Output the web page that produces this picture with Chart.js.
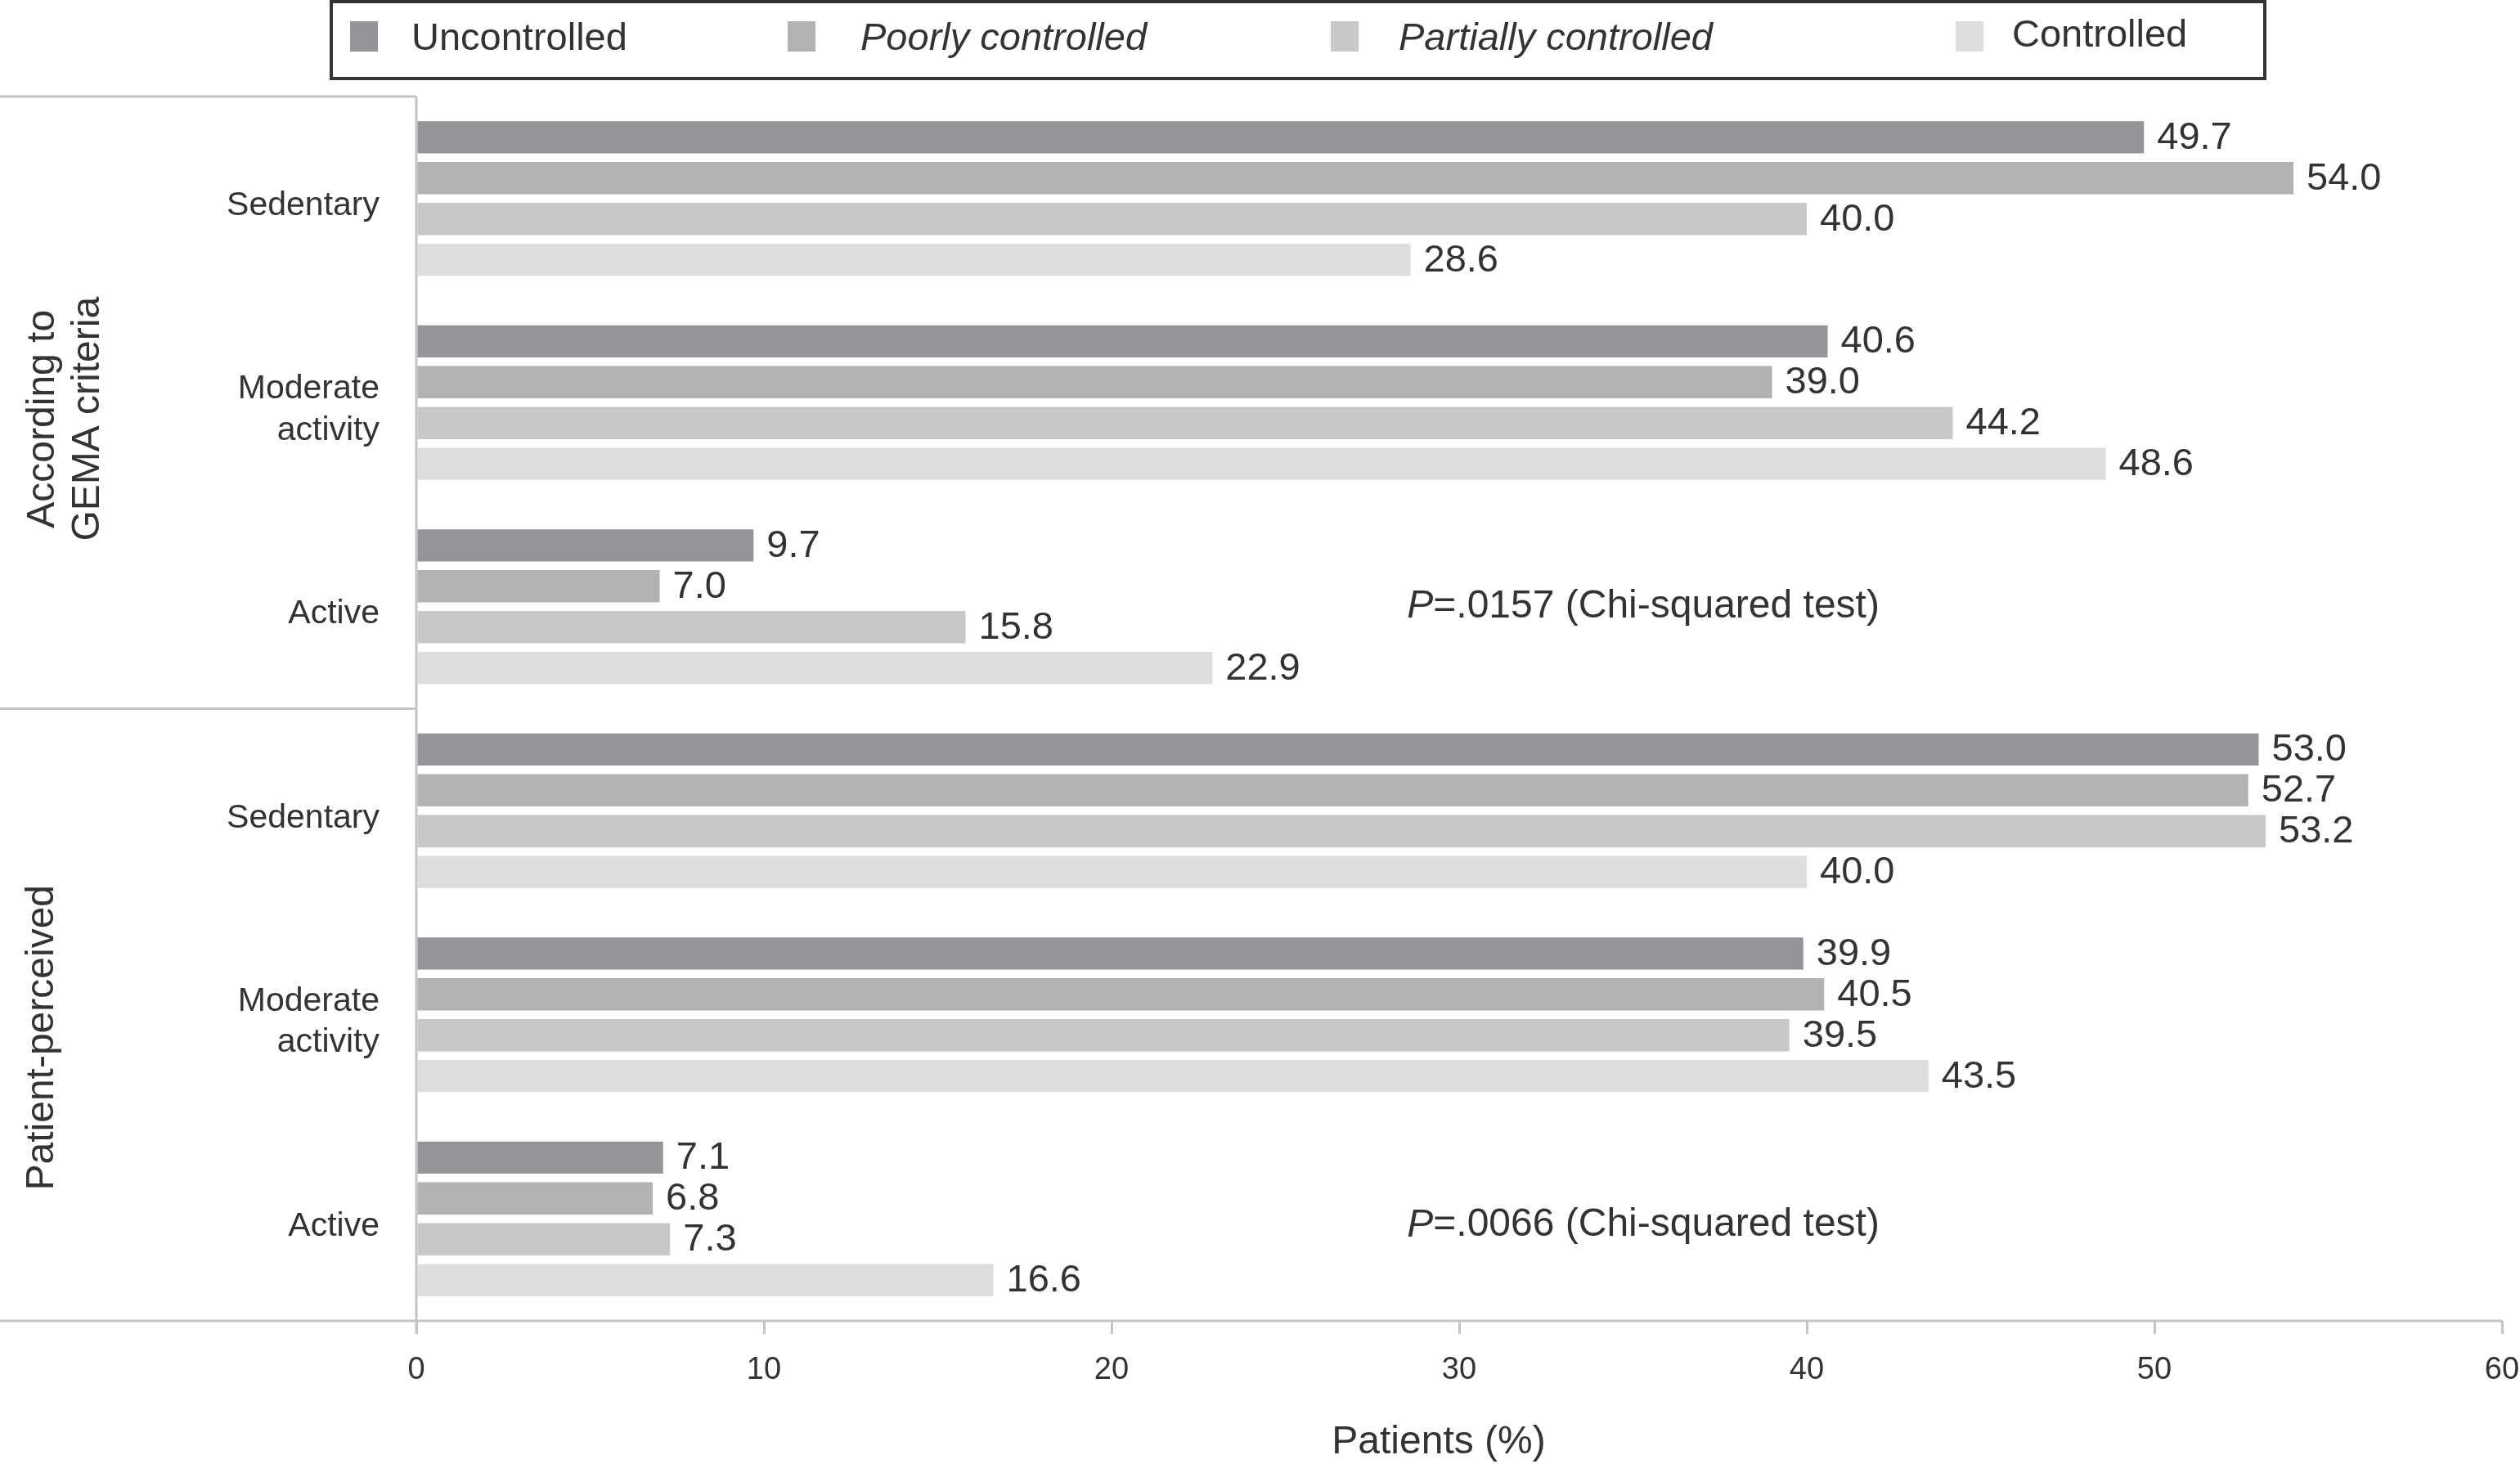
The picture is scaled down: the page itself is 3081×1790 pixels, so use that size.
<!DOCTYPE html>
<html><head><meta charset="utf-8">
<script src="https://cdn.jsdelivr.net/npm/chart.js@4.4.1/dist/chart.umd.min.js"></script>
<style>html,body{margin:0;padding:0;background:#fff;overflow:hidden}canvas{display:block}</style>
</head><body>
<canvas id="c" width="3081" height="1790"></canvas>
<script>
// ---------------- data ----------------
const categories = [["Sedentary"], ["Moderate", "activity"], ["Active"], ["Sedentary"], ["Moderate", "activity"], ["Active"]];
const seriesNames = ["Uncontrolled", "Poorly controlled", "Partially controlled", "Controlled"];
const uncontrolled        = [49.7, 40.6, 9.7, 53.0, 39.9, 7.1];
const poorlyControlled    = [54.0, 39.0, 7.0, 52.7, 40.5, 6.8];
const partiallyControlled = [40.0, 44.2, 15.8, 53.2, 39.5, 7.3];
const controlled          = [28.6, 48.6, 22.9, 40.0, 43.5, 16.6];
const xTicks = [0, 10, 20, 30, 40, 50, 60];
const groupTitles = [["According to", "GEMA criteria"], ["Patient-perceived"]];
const pValueNotes = ["=.0157 (Chi-squared test)", "=.0066 (Chi-squared test)"];
const xTitle = "Patients (%)";

// ---------------- styles ----------------
const FONT = '"Liberation Sans", Arial, Helvetica, sans-serif';
const TEXT = '#333333';
const LINE = '#c4c4c4';
const colors = ['#939598', '#b1b2b4', '#c7c8ca', '#dcdddf'];
const italicSeries = [false, true, true, false];
const seriesValues = [uncontrolled, poorlyControlled, partiallyControlled, controlled];

const framePlugin = {
  id: 'frame',
  beforeDatasetsDraw(chart) {
    const {ctx, chartArea, scales} = chart;
    const y = scales.y;
    ctx.save();
    ctx.strokeStyle = LINE; ctx.lineWidth = 3;
    const mid = (y.getPixelForValue(2) + y.getPixelForValue(3)) / 2;
    ctx.beginPath();
    ctx.moveTo(0, chartArea.bottom); ctx.lineTo(chartArea.right, chartArea.bottom);
    ctx.moveTo(chartArea.left, chartArea.top); ctx.lineTo(chartArea.left, chartArea.bottom + 16);
    ctx.moveTo(0, chartArea.top); ctx.lineTo(chartArea.left, chartArea.top);
    ctx.moveTo(0, mid); ctx.lineTo(chartArea.left, mid);
    ctx.stroke();
    // group titles (rotated)
    ctx.fillStyle = TEXT;
    ctx.font = '48px ' + FONT;
    ctx.textAlign = 'center'; ctx.textBaseline = 'middle';
    const groupCenters = [y.getPixelForValue(1) + 20, y.getPixelForValue(4) + 28];
    const groupX = [[53, 108], [52]];
    groupTitles.forEach((lines, g) => {
      lines.forEach((ln, i) => {
        ctx.save();
        ctx.translate(groupX[g][i], groupCenters[g]);
        ctx.rotate(-Math.PI / 2);
        ctx.fillText(ln, 0, 0);
        ctx.restore();
      });
    });
    ctx.restore();
  },
  afterDatasetsDraw(chart) {
    const {ctx, scales} = chart;
    ctx.save();
    ctx.fillStyle = TEXT;
    ctx.font = '47px ' + FONT;
    ctx.textAlign = 'left'; ctx.textBaseline = 'middle';
    chart.data.datasets.forEach((ds, di) => {
      const meta = chart.getDatasetMeta(di);
      meta.data.forEach((el, i) => {
        ctx.fillText(ds.data[i].toFixed(1), el.x + 16, el.y + 1);
      });
    });
    // p-value notes
    const noteRows = [2, 5];
    const nx = scales.x.getPixelForValue(28.5);
    noteRows.forEach((r, k) => {
      const ny = scales.y.getPixelForValue(r) + (k === 0 ? 0 : 8);
      ctx.font = 'italic 48px ' + FONT;
      ctx.fillText('P', nx, ny);
      const w = ctx.measureText('P').width;
      ctx.font = '48px ' + FONT;
      ctx.fillText(pValueNotes[k], nx + w, ny);
    });
    // x title
    ctx.font = '48px ' + FONT;
    ctx.textAlign = 'center';
    ctx.fillText(xTitle, 1759, 1764);
    // legend
    ctx.strokeStyle = '#333333'; ctx.lineWidth = 4;
    ctx.strokeRect(405, 2, 2364, 94);
    const sqX = [428, 963, 1627, 2391];
    const txX = [503, 1052, 1710, 2460];
    chart.data.datasets.forEach((ds, di) => {
      ctx.fillStyle = ds.backgroundColor;
      ctx.fillRect(sqX[di], 26, 34, 37);
      ctx.fillStyle = TEXT;
      ctx.textAlign = 'left'; ctx.textBaseline = 'alphabetic';
      ctx.font = (italicSeries[di] ? 'italic ' : '') + '47px ' + FONT;
      ctx.fillText(ds.label, txX[di], di === 3 ? 57 : 61);
    });
    ctx.restore();
  }
};

new Chart(document.getElementById('c').getContext('2d'), {
  type: 'bar',
  data: {
    labels: categories,
    datasets: seriesNames.map((n, i) => ({
      label: n, data: seriesValues[i], backgroundColor: colors[i], borderWidth: 0,
      categoryPercentage: 0.8, barPercentage: 0.79
    }))
  },
  options: {
    indexAxis: 'y', responsive: false, animation: false, devicePixelRatio: 1,
    layout: { padding: { top: 118, right: 22, left: 0, bottom: 0 } },
    plugins: { legend: { display: false }, tooltip: { enabled: false }, title: { display: false } },
    scales: {
      x: {
        type: 'linear', min: 0, max: 60, position: 'bottom',
        afterBuildTicks: s => { s.ticks = xTicks.map(v => ({ value: v })); },
        grid: { drawOnChartArea: false, drawTicks: true, tickLength: 16, color: LINE, lineWidth: 3 },
        border: { display: false },
        ticks: { font: { family: FONT, size: 38 }, color: TEXT, padding: 22, maxRotation: 0, autoSkip: false },
        afterFit: s => { s.height = 175; s.paddingRight = 0; s.paddingLeft = 0; }
      },
      y: {
        grid: { display: false, drawTicks: false },
        border: { display: false },
        ticks: { font: { family: FONT, size: 41, lineHeight: 1.24 }, color: TEXT, padding: 45, autoSkip: false, labelOffset: 9 },
        afterFit: s => { s.width = 509; s.paddingTop = 0; s.paddingBottom = 0; }
      }
    }
  },
  plugins: [framePlugin]
});
</script>
</body></html>
